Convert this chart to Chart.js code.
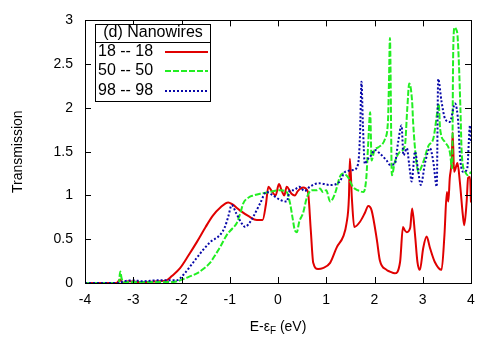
<!DOCTYPE html>
<html>
<head>
<meta charset="utf-8">
<title>Transmission - Nanowires</title>
<script src="https://cdn.jsdelivr.net/npm/chart.js@4.4.0/dist/chart.umd.min.js"></script>
<style>
  html, body { margin: 0; padding: 0; background: #fff; }
</style>
</head>
<body>
<canvas id="transChart" width="500" height="350"></canvas>
<script>
// Axis ticks
const xTicks = [-4, -3, -2, -1, 0, 1, 2, 3, 4];
const yTicks = [0, 0.5, 1, 1.5, 2, 2.5, 3];

// Legend labels
const legendTitle = '(d) Nanowires';
const seriesNames = ['18 -- 18', '50 -- 50', '98 -- 98'];

// 18 -- 18 (red, solid)
const redX = [-4, -3.35, -3.27, -3.22, -3.1, -2.8, -2.5, -2.31, -2.2, -2.03, -1.85, -1.68, -1.5, -1.35, -1.2, -1.03, -0.95, -0.79, -0.6, -0.44, -0.32, -0.25, -0.2, -0.13, -0.05, 0.02, 0.08, 0.13, 0.18, 0.28, 0.35, 0.41, 0.52, 0.62, 0.68, 0.73, 0.83, 0.93, 1.08, 1.22, 1.35, 1.42, 1.47, 1.49, 1.53, 1.58, 1.7, 1.8, 1.87, 1.94, 2.05, 2.11, 2.25, 2.32, 2.42, 2.53, 2.59, 2.63, 2.67, 2.74, 2.78, 2.84, 2.89, 2.94, 3.01, 3.08, 3.15, 3.25, 3.39, 3.45, 3.5, 3.53, 3.56, 3.6, 3.62, 3.65, 3.72, 3.77, 3.83, 3.86, 3.91, 3.94, 3.98, 4.0];
const redY = [0, 0, 0.04, 0.0, 0.02, 0.01, 0.02, 0.03, 0.08, 0.17, 0.32, 0.47, 0.64, 0.77, 0.86, 0.92, 0.9, 0.83, 0.76, 0.72, 0.72, 0.9, 1.1, 1.05, 1.0, 1.13, 1.05, 1.0, 1.1, 1.02, 1.0, 1.05, 1.09, 1.04, 0.6, 0.23, 0.16, 0.17, 0.23, 0.41, 0.53, 0.68, 0.98, 1.42, 0.98, 0.64, 0.7, 0.8, 0.88, 0.83, 0.49, 0.26, 0.15, 0.13, 0.11, 0.24, 0.64, 0.6, 0.58, 0.63, 0.85, 0.55, 0.24, 0.15, 0.4, 0.53, 0.4, 0.24, 0.15, 0.55, 1.04, 0.93, 1.2, 1.4, 1.72, 1.27, 1.37, 1.15, 0.78, 0.66, 0.93, 1.2, 1.21, 0.92];

// 50 -- 50 (green, dashed)
const greenX = [-4, -3.3, -3.27, -3.24, -3.2, -3.0, -2.5, -2.2, -2.03, -1.85, -1.68, -1.55, -1.41, -1.3, -1.2, -1.06, -0.95, -0.86, -0.78, -0.72, -0.6, -0.51, -0.37, -0.17, 0.04, 0.18, 0.25, 0.3, 0.35, 0.39, 0.44, 0.52, 0.6, 0.7, 0.8, 0.87, 0.93, 1.0, 1.08, 1.18, 1.28, 1.35, 1.45, 1.55, 1.65, 1.77, 1.83, 1.87, 1.91, 1.94, 2.0, 2.08, 2.22, 2.28, 2.3, 2.32, 2.36, 2.42, 2.53, 2.63, 2.68, 2.72, 2.78, 2.8, 2.86, 2.91, 3.01, 3.12, 3.22, 3.3, 3.33, 3.36, 3.46, 3.56, 3.61, 3.63, 3.66, 3.69, 3.72, 3.75, 3.78, 3.81, 3.88, 3.94, 4.0];
const greenY = [0, 0, 0.13, 0.05, 0.01, 0.01, 0.01, 0.01, 0.03, 0.07, 0.11, 0.16, 0.23, 0.32, 0.41, 0.55, 0.62, 0.68, 0.8, 0.91, 0.98, 1.0, 1.02, 1.04, 1.06, 1.04, 0.91, 0.75, 0.6, 0.58, 0.7, 0.8, 0.98, 1.06, 1.06, 1.08, 1.04, 1.06, 0.93, 1.02, 1.21, 1.25, 1.21, 1.1, 1.06, 1.04, 1.2, 1.6, 1.95, 1.4, 1.52, 1.55, 1.65, 1.86, 2.3, 2.8, 1.23, 1.38, 1.5, 1.57, 2.0, 2.28, 2.07, 1.84, 1.42, 1.27, 1.38, 1.57, 1.65, 1.95, 2.05, 1.76, 1.61, 1.5, 1.31, 2.6, 2.92, 2.9, 2.83, 2.5, 2.0, 1.46, 1.27, 1.23, 1.27];

// 98 -- 98 (blue, dotted)
const blueX = [-4, -3.3, -3.2, -3.0, -2.8, -2.5, -2.3, -2.1, -1.95, -1.82, -1.68, -1.55, -1.4, -1.2, -1.1, -1.03, -0.96, -0.86, -0.75, -0.68, -0.6, -0.51, -0.37, -0.24, -0.1, 0.04, 0.18, 0.25, 0.32, 0.44, 0.55, 0.66, 0.84, 1.08, 1.28, 1.39, 1.56, 1.66, 1.7, 1.73, 1.76, 1.8, 1.84, 1.92, 2.01, 2.11, 2.25, 2.32, 2.42, 2.49, 2.56, 2.6, 2.67, 2.72, 2.77, 2.84, 2.9, 2.96, 3.05, 3.15, 3.22, 3.29, 3.32, 3.39, 3.46, 3.56, 3.67, 3.74, 3.77, 3.84, 3.92, 3.98, 4.0];
const blueY = [0, 0, 0.02, 0.03, 0.02, 0.03, 0.03, 0.03, 0.1, 0.19, 0.29, 0.38, 0.47, 0.55, 0.64, 0.76, 0.89, 0.79, 0.68, 0.64, 0.68, 0.76, 0.91, 1.04, 1.0, 0.95, 0.93, 1.06, 1.06, 1.1, 1.05, 1.1, 1.14, 1.12, 1.16, 1.27, 1.29, 1.36, 1.7, 2.3, 1.8, 1.36, 1.4, 1.45, 1.52, 1.48, 1.4, 1.35, 1.36, 1.61, 1.8, 1.46, 1.54, 1.35, 1.16, 1.5, 1.3, 1.12, 1.38, 1.54, 1.38, 1.1, 2.33, 2.07, 1.88, 1.84, 2.05, 1.8, 1.46, 1.27, 1.3, 1.8, 1.6];

const FONT = "'Liberation Sans', Arial, Helvetica, sans-serif";

const toPoints = (xs, ys) => xs.map((x, i) => ({ x: x, y: ys[i] }));

const lineStyles = [
  { color: '#e00000', dash: [] },
  { color: '#22ee22', dash: [6, 2] },
  { color: '#0808a8', dash: [2, 2] }
];

// frame, inward ticks on all four sides, legend box and x title
const framePlugin = {
  id: 'frame',
  afterDraw(chart) {
    const ctx = chart.ctx;
    const a = chart.chartArea;
    const sx = chart.scales.x;
    const sy = chart.scales.y;
    const tick = 6;

    ctx.save();
    ctx.strokeStyle = '#000';
    ctx.lineWidth = 1;
    ctx.strokeRect(Math.round(a.left) + 0.5, Math.round(a.top) + 0.5,
      Math.round(a.right - a.left), Math.round(a.bottom - a.top));

    ctx.beginPath();
    xTicks.forEach(v => {
      const p = Math.round(sx.getPixelForValue(v)) + 0.5;
      ctx.moveTo(p, a.bottom); ctx.lineTo(p, a.bottom - tick);
      ctx.moveTo(p, a.top); ctx.lineTo(p, a.top + tick);
    });
    yTicks.forEach(v => {
      const p = Math.round(sy.getPixelForValue(v)) + 0.5;
      ctx.moveTo(a.left, p); ctx.lineTo(a.left + tick, p);
      ctx.moveTo(a.right, p); ctx.lineTo(a.right - tick, p);
    });
    ctx.stroke();

    // legend box
    const bx = 95.5, by = 24.5, bw = 115, bh = 77;
    ctx.fillStyle = '#fff';
    ctx.fillRect(bx, by, bw, bh);
    ctx.strokeRect(bx, by, bw, bh);
    ctx.beginPath();
    ctx.moveTo(bx, 42.5); ctx.lineTo(bx + bw, 42.5);
    ctx.stroke();

    ctx.fillStyle = '#000';
    ctx.font = '16px ' + FONT;
    ctx.textBaseline = 'middle';
    ctx.textAlign = 'center';
    ctx.fillText(legendTitle, bx + bw / 2, 33);
    ctx.textAlign = 'left';
    const rowY = [52, 71, 91];
    seriesNames.forEach((name, i) => {
      ctx.fillStyle = '#000';
      ctx.fillText(name, 98, rowY[i]);
      ctx.strokeStyle = lineStyles[i].color;
      ctx.lineWidth = 2;
      ctx.setLineDash(lineStyles[i].dash);
      ctx.beginPath();
      ctx.moveTo(165, rowY[i]);
      ctx.lineTo(208, rowY[i]);
      ctx.stroke();
      ctx.setLineDash([]);
    });

    // x axis title with subscript F
    const main = 'E-\u03b5';
    const sub = 'F';
    const rest = ' (eV)';
    ctx.font = '14px ' + FONT;
    const w1 = ctx.measureText(main).width;
    const w3 = ctx.measureText(rest).width;
    ctx.font = '10px ' + FONT;
    const w2 = ctx.measureText(sub).width;
    const cx = (a.left + a.right) / 2;
    let x0 = cx - (w1 + w2 + w3) / 2;
    const base = 331;
    ctx.textBaseline = 'alphabetic';
    ctx.fillStyle = '#000';
    ctx.font = '14px ' + FONT;
    ctx.fillText(main, x0, base);
    ctx.font = '10px ' + FONT;
    ctx.fillText(sub, x0 + w1, base + 3);
    ctx.font = '14px ' + FONT;
    ctx.fillText(rest, x0 + w1 + w2, base);
    ctx.restore();
  }
};

const makeSet = (label, xs, ys, style, order) => ({
  label: label,
  data: toPoints(xs, ys),
  borderColor: style.color,
  borderWidth: 2,
  borderDash: style.dash,
  pointRadius: 0,
  fill: false,
  cubicInterpolationMode: 'monotone',
  order: order
});

new Chart(document.getElementById('transChart').getContext('2d'), {
  type: 'line',
  data: {
    datasets: [
      makeSet(seriesNames[0], redX, redY, lineStyles[0], 3),
      makeSet(seriesNames[1], greenX, greenY, lineStyles[1], 2),
      makeSet(seriesNames[2], blueX, blueY, lineStyles[2], 1)
    ]
  },
  options: {
    responsive: false,
    animation: false,
    devicePixelRatio: 1,
    layout: { padding: { top: 20, right: 29, left: 0, bottom: 0 } },
    plugins: {
      legend: { display: false },
      tooltip: { enabled: false }
    },
    scales: {
      x: {
        type: 'linear',
        min: -4,
        max: 4,
        afterFit: s => { s.height = 67; },
        grid: { display: false, drawTicks: false },
        border: { display: false },
        ticks: {
          stepSize: 1,
          padding: 9,
          color: '#000',
          font: { family: FONT, size: 14 },
          maxRotation: 0
        }
      },
      y: {
        min: 0,
        max: 3,
        afterFit: s => { s.width = 85; },
        grid: { display: false, drawTicks: false },
        border: { display: false },
        ticks: {
          stepSize: 0.5,
          padding: 12,
          color: '#000',
          font: { family: FONT, size: 14 },
          callback: v => String(v)
        },
        title: {
          display: true,
          text: 'Transmission',
          color: '#000',
          font: { family: FONT, size: 14 },
          padding: { top: 10, bottom: 0 }
        }
      }
    }
  },
  plugins: [framePlugin]
});
</script>
</body>
</html>
